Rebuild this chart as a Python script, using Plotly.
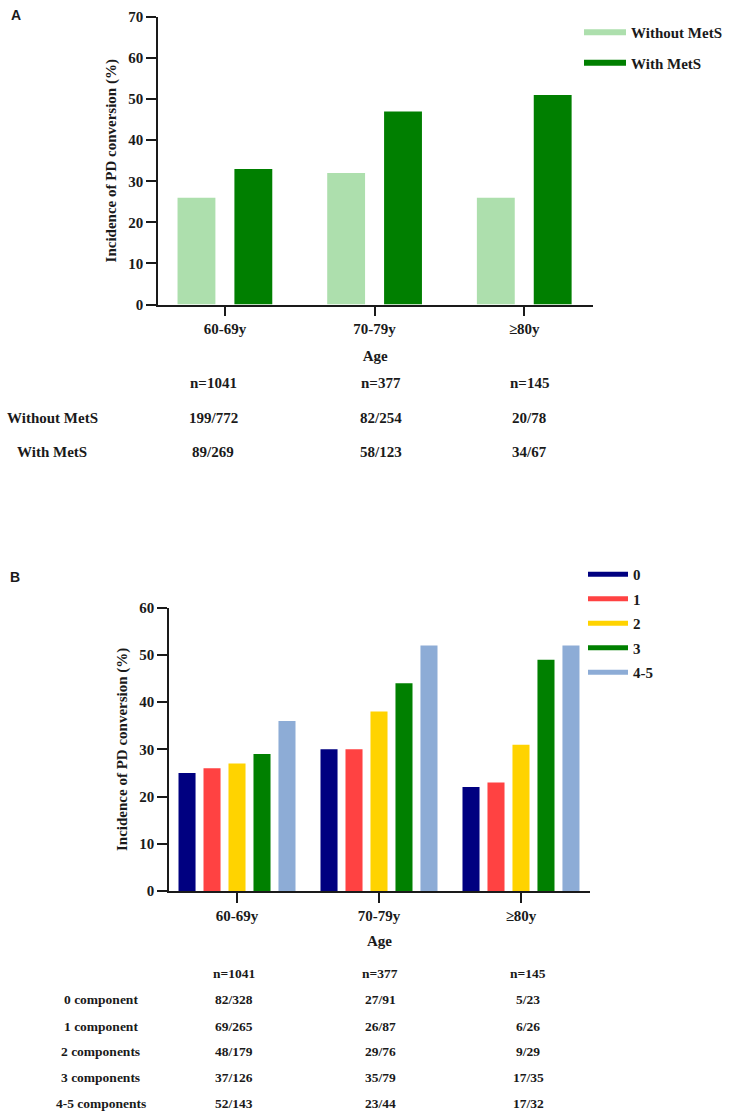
import plotly.graph_objects as go

# ---------------- data ----------------
age_groups = ["60-69y", "70-79y", "≥80y"]

a_series = ["Without MetS", "With MetS"]
a_without = [26, 32, 26]
a_with = [33, 47, 51]

b_series = ["0", "1", "2", "3", "4-5"]
b_comp0 = [25, 30, 22]
b_comp1 = [26, 30, 23]
b_comp2 = [27, 38, 31]
b_comp3 = [29, 44, 49]
b_comp45 = [36, 52, 52]

n_totals = ["n=1041", "n=377", "n=145"]

a_row_labels = ["Without MetS", "With MetS"]
a_without_counts = ["199/772", "82/254", "20/78"]
a_with_counts = ["89/269", "58/123", "34/67"]

b_row_labels = ["0 component", "1 component", "2 components", "3 components", "4-5 components"]
b_counts0 = ["82/328", "27/91", "5/23"]
b_counts1 = ["69/265", "26/87", "6/26"]
b_counts2 = ["48/179", "29/76", "9/29"]
b_counts3 = ["37/126", "35/79", "17/35"]
b_counts45 = ["52/143", "23/44", "17/32"]

# ---------------- style ----------------
W, H = 730, 1116
SERIF = "Liberation Serif, Times New Roman, serif"
SANS = "Liberation Sans, Arial, sans-serif"
INK = "#1a1a1a"
a_colors = ["#ADDFAD", "#007F00"]
b_colors = ["#000080", "#FF4242", "#FFD300", "#008000", "#8DACD6"]

A_BAR_W, A_PITCH = 0.253, 0.38
B_BAR_W, B_PITCH = 0.12, 0.176


def px_x(p):
    return p / W


def px_y(p):
    return 1 - p / H


fig = go.Figure()

a_values = [a_without, a_with]
for i, (name, vals, col) in enumerate(zip(a_series, a_values, a_colors)):
    off = (i - (len(a_series) - 1) / 2) * A_PITCH - A_BAR_W / 2
    fig.add_trace(go.Bar(x=age_groups, y=vals, name=name, marker=dict(color=col, line=dict(width=0)),
                         width=A_BAR_W, offset=off, xaxis="x", yaxis="y", showlegend=False,
                         hoverinfo="y"))
    fig.add_trace(go.Scatter(x=[None], y=[None], mode="lines", name=name,
                             line=dict(color=col, width=6), legend="legend",
                             legendgroup="a" + str(i), xaxis="x", yaxis="y"))

b_values = [b_comp0, b_comp1, b_comp2, b_comp3, b_comp45]
for i, (name, vals, col) in enumerate(zip(b_series, b_values, b_colors)):
    off = (i - (len(b_series) - 1) / 2) * B_PITCH - B_BAR_W / 2
    fig.add_trace(go.Bar(x=age_groups, y=vals, name=name, marker=dict(color=col, line=dict(width=0)),
                         width=B_BAR_W, offset=off, xaxis="x2", yaxis="y2", showlegend=False,
                         hoverinfo="y"))
    fig.add_trace(go.Scatter(x=[None], y=[None], mode="lines", name=name,
                             line=dict(color=col, width=5), legend="legend2",
                             legendgroup="b" + str(i), xaxis="x2", yaxis="y2"))

axis_common = dict(showline=True, linewidth=1.5, linecolor=INK, ticks="outside",
                   ticklen=10, tickwidth=1.5, tickcolor=INK, showgrid=False, zeroline=False,
                   automargin=False,
                   tickfont=dict(family=SERIF, size=15, color=INK, weight="bold"))

title_font = dict(family=SERIF, size=15, color=INK, weight="bold")

fig.update_layout(
    width=W, height=H,
    margin=dict(l=0, r=0, t=0, b=0, autoexpand=False),
    paper_bgcolor="white", plot_bgcolor="white",
    barmode="overlay",
    font=dict(family=SERIF, color=INK),
    xaxis=dict(domain=[px_x(158), px_x(592.5)], range=[-0.447, 2.456], anchor="y",
               title=dict(text="Age", font=title_font, standoff=14), **axis_common),
    yaxis=dict(domain=[px_y(304.5), px_y(17)], range=[0, 70], dtick=10, anchor="x",
               title=dict(text="Incidence of PD conversion (%)", font=title_font, standoff=8),
               **axis_common),
    xaxis2=dict(domain=[px_x(169), px_x(590)], range=[-0.479, 2.486], anchor="y2",
                title=dict(text="Age", font=title_font, standoff=13), **axis_common),
    yaxis2=dict(domain=[px_y(891), px_y(607.7)], range=[0, 60], dtick=10, anchor="x2",
                title=dict(text="Incidence of PD conversion (%)", font=title_font, standoff=8),
                **axis_common),
    legend=dict(x=px_x(579), y=px_y(16), xanchor="left", yanchor="top",
                xref="container", yref="container",
                font=dict(family=SERIF, size=15, color=INK, weight="bold"),
                itemwidth=42, tracegroupgap=8, bgcolor="rgba(0,0,0,0)"),
    legend2=dict(x=px_x(583), y=px_y(558), xanchor="left", yanchor="top",
                 xref="container", yref="container",
                 font=dict(family=SERIF, size=15, color=INK, weight="bold"),
                 itemwidth=40, tracegroupgap=2, bgcolor="rgba(0,0,0,0)"),
)

ann = []


def txt(x, y, s, size=15, family=SERIF, weight="bold"):
    ann.append(dict(x=px_x(x), y=px_y(y), xref="paper", yref="paper", text=s, showarrow=False,
                    xanchor="center", yanchor="middle",
                    font=dict(family=family, size=size, color=INK, weight=weight)))


# panel letters
txt(16, 15, "A", size=14, family=SANS)
txt(15, 577, "B", size=14, family=SANS)

# panel A table
a_cols = [213, 381, 529]
for x, s in zip(a_cols, n_totals):
    txt(x, 383, s)
a_rows_y = [418, 452]
for y, lab, counts in zip(a_rows_y, a_row_labels, [a_without_counts, a_with_counts]):
    txt(52, y, lab)
    for x, s in zip(a_cols, counts):
        txt(x, y, s)

# panel B table
b_cols = [234, 380, 528]
for x, s in zip(b_cols, n_totals):
    txt(x, 973, s, size=13.5)
b_rows_y = [999, 1026, 1051, 1077, 1103]
for y, lab, counts in zip(b_rows_y, b_row_labels,
                          [b_counts0, b_counts1, b_counts2, b_counts3, b_counts45]):
    txt(101, y, lab, size=13.5)
    for x, s in zip(b_cols, counts):
        txt(x, y, s, size=13.5)

fig.update_layout(annotations=ann)

fig.write_html("out.html", config={"displayModeBar": False},
               post_script="document.body.style.margin='0';document.body.style.overflow='hidden';")
